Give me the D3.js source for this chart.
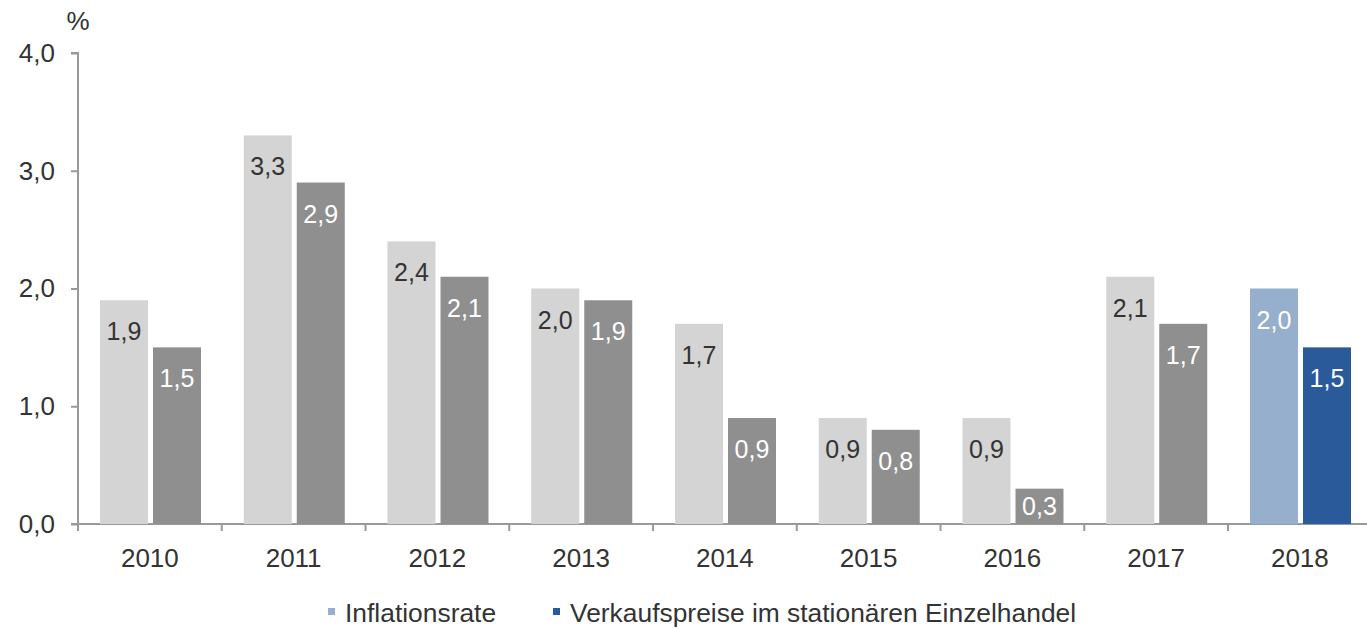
<!DOCTYPE html>
<html>
<head>
<meta charset="utf-8">
<script src="https://cdn.jsdelivr.net/npm/d3@7"></script>
<style>
  body { margin: 0; background: #fff; }
  text { font-family: "Liberation Sans", Arial, sans-serif; }
</style>
</head>
<body>
<svg id="chart" width="1367" height="629"></svg>
<script>
// --- Data -------------------------
const years = ["2010", "2011", "2012", "2013", "2014", "2015", "2016", "2017", "2018"];
const inflation = [1.9, 3.3, 2.4, 2.0, 1.7, 0.9, 0.9, 2.1, 2.0];
const retailPrices = [1.5, 2.9, 2.1, 1.9, 0.9, 0.8, 0.3, 1.7, 1.5];
const yTicks = [0, 1, 2, 3, 4];
const legendLabels = ["Inflationsrate", "Verkaufspreise im stationären Einzelhandel"];

const fmt = v => d3.format(".1f")(v).replace(".", ",");

const svg = d3.select("#chart");
const margin = {top: 53, left: 78, bottom: 105};
const height = 629;
const textColor = "#333";
const axisColor = "#999";

const x = d3.scaleBand()
  .domain(years)
  .range([margin.left, margin.left + 143.75 * years.length]);

const y = d3.scaleLinear()
  .domain([0, 4])
  .range([height - margin.bottom, margin.top]);

// bars sit inside each band: light one first, dark one next to it
const barW = 48, gap = 5;
const offLight = 22, offDark = offLight + barW + gap;

// colours: grey for past years, blue for the latest one
function lightColor(i) { return i === years.length - 1 ? "#95afcd" : "#d4d4d4"; }
function darkColor(i) { return i === years.length - 1 ? "#2a5a99" : "#8f8f8f"; }

// --- Axes -------------------------
const yAxis = svg.append("g")
  .attr("transform", `translate(${margin.left},0)`)
  .call(d3.axisLeft(y).tickValues(yTicks).tickFormat(fmt).tickSize(7).tickPadding(16));
yAxis.select(".domain").attr("stroke", axisColor).attr("stroke-width", 2)
  .attr("d", `M-7,${y(4)}H0V${y(0)}`);
yAxis.selectAll(".tick line").attr("stroke", axisColor).attr("stroke-width", 2);
yAxis.selectAll(".tick text").attr("font-size", 26).attr("fill", textColor);

const xAxis = svg.append("g")
  .attr("transform", `translate(0,${y(0)})`)
  .call(d3.axisBottom(x).tickSize(0).tickPadding(25));
xAxis.select(".domain").attr("stroke", axisColor).attr("stroke-width", 2)
  .attr("d", `M${margin.left - 7},0H1367`);
xAxis.selectAll(".tick text").attr("font-size", 26).attr("fill", textColor);

// small tick marks at the band boundaries
svg.append("g").selectAll("line")
  .data(years)
  .enter().append("line")
  .attr("x1", d => x(d)).attr("x2", d => x(d))
  .attr("y1", y(0)).attr("y2", y(0) + 7)
  .attr("stroke", axisColor).attr("stroke-width", 2);

svg.append("text")
  .attr("x", 78).attr("y", 30)
  .attr("text-anchor", "middle")
  .attr("font-size", 26).attr("fill", textColor)
  .text("%");

// --- Bars -------------------------
const groups = svg.append("g").selectAll("g")
  .data(years)
  .enter().append("g");

// labels sit near the top of the bar, or in the middle for short ones
function labelY(v) {
  const top = y(v), mid = (y(v) + y(0)) / 2;
  return Math.min(top + 40, mid + 9);
}

groups.append("rect")
  .attr("x", d => x(d) + offLight)
  .attr("y", (d, i) => y(inflation[i]))
  .attr("width", barW)
  .attr("height", (d, i) => y(0) - y(inflation[i]))
  .attr("fill", (d, i) => lightColor(i));

groups.append("rect")
  .attr("x", d => x(d) + offDark)
  .attr("y", (d, i) => y(retailPrices[i]))
  .attr("width", barW)
  .attr("height", (d, i) => y(0) - y(retailPrices[i]))
  .attr("fill", (d, i) => darkColor(i));

groups.append("text")
  .attr("x", d => x(d) + offLight + barW / 2)
  .attr("y", (d, i) => labelY(inflation[i]))
  .attr("text-anchor", "middle")
  .attr("font-size", 25)
  .attr("fill", (d, i) => i === years.length - 1 ? "#fff" : textColor)
  .text((d, i) => fmt(inflation[i]));

groups.append("text")
  .attr("x", d => x(d) + offDark + barW / 2)
  .attr("y", (d, i) => labelY(retailPrices[i]))
  .attr("text-anchor", "middle")
  .attr("font-size", 25)
  .attr("fill", "#fff")
  .text((d, i) => fmt(retailPrices[i]));

// --- Legend -------------------------
const legendX = [328, 553];
const legendColors = [lightColor(years.length - 1), darkColor(years.length - 1)];
const legend = svg.append("g").selectAll("g")
  .data(legendLabels)
  .enter().append("g")
  .attr("transform", (d, i) => `translate(${legendX[i]},622)`);

legend.append("rect")
  .attr("x", 0).attr("y", -14)
  .attr("width", 7).attr("height", 7)
  .attr("fill", (d, i) => legendColors[i]);

legend.append("text")
  .attr("x", 17).attr("y", 0)
  .attr("font-size", 26.4).attr("fill", textColor)
  .text(d => d);
</script>
</body>
</html>
